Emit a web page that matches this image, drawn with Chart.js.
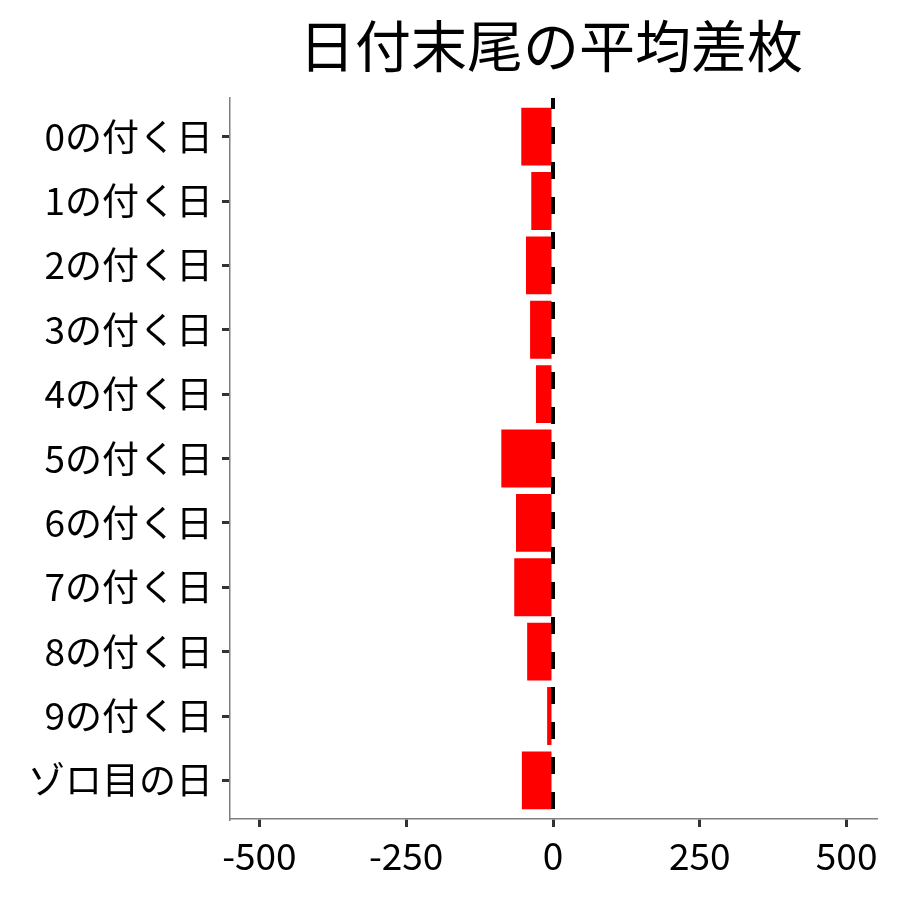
<!DOCTYPE html>
<html>
<head>
<meta charset="utf-8">
<script src="https://cdn.jsdelivr.net/npm/chart.js@4.4.1/dist/chart.umd.min.js"></script>
<style>
html,body{margin:0;padding:0;background:#fff;}
#wrap{width:900px;height:900px;}
</style>
</head>
<body>
<div id="wrap"><canvas id="c" width="900" height="900"></canvas></div>
<script>
const titleText = '日付末尾の平均差枚';
const categories = ['0の付く日','1の付く日','2の付く日','3の付く日','4の付く日','5の付く日','6の付く日','7の付く日','8の付く日','9の付く日','ゾロ目の日'];
const meanDiff = [-54, -37, -46, -39, -29, -88, -63, -66, -44, -10, -53];
const xTickValues = [-500, -250, 0, 250, 500];

const FONT = '"Noto Sans CJK JP", "Noto Sans", sans-serif';

const zeroLine = {
  id: 'zeroLine',
  afterDatasetsDraw(chart) {
    const {ctx, chartArea, scales} = chart;
    const x = scales.x.getPixelForValue(0);
    ctx.save();
    ctx.strokeStyle = '#000';
    ctx.lineWidth = 4;
    ctx.setLineDash([17, 18]);
    ctx.lineDashOffset = 6;
    ctx.beginPath();
    ctx.moveTo(x, chartArea.top);
    ctx.lineTo(x, chartArea.bottom);
    ctx.stroke();
    ctx.restore();
  }
};

const titlePlugin = {
  id: 'panelTitle',
  afterDraw(chart) {
    const {ctx, chartArea} = chart;
    ctx.save();
    ctx.fillStyle = '#000';
    ctx.font = '56px ' + FONT;
    ctx.textAlign = 'center';
    ctx.textBaseline = 'middle';
    ctx.fillText(titleText, (chartArea.left + chartArea.right) / 2 - 2, 46);
    ctx.restore();
  }
};

new Chart(document.getElementById('c'), {
  type: 'bar',
  data: {
    datasets: [{
      data: meanDiff.map((v, i) => ({x: v, y: i})),
      backgroundColor: '#FF0000',
      borderWidth: 0,
      categoryPercentage: 1,
      barPercentage: 0.9
    }]
  },
  options: {
    indexAxis: 'y',
    responsive: false,
    animation: false,
    devicePixelRatio: 1,
    layout: {padding: {top: 98, right: 24, left: 0, bottom: 0}},
    plugins: {legend: {display: false}, tooltip: {enabled: false}, title: {display: false}},
    scales: {
      x: {
        type: 'linear',
        min: -550,
        max: 550,
        offset: false,
        afterBuildTicks: s => { s.ticks = xTickValues.map(v => ({value: v})); },
        afterFit: s => { s.height = 81; },
        border: {display: true, color: '#7f7f7f', width: 1.5},
        grid: {offset: false, drawOnChartArea: false, drawTicks: true, tickLength: 8, tickColor: '#333333', tickWidth: 3, lineWidth: 3},
        ticks: {color: '#000', font: {family: FONT, size: 37}, padding: 7, maxRotation: 0, autoSkip: false,
          callback: v => String(v)}
      },
      y: {
        type: 'linear',
        reverse: true,
        offset: false,
        min: -0.6,
        max: categories.length - 1 + 0.6,
        afterBuildTicks: s => { s.ticks = categories.map((_, i) => ({value: i})); },
        afterFit: s => { s.width = 230; },
        border: {display: true, color: '#7f7f7f', width: 1.5},
        grid: {offset: false, drawOnChartArea: false, drawTicks: true, tickLength: 8, tickColor: '#333333', tickWidth: 3, lineWidth: 3},
        ticks: {color: '#000', font: {family: FONT, size: 37}, padding: 9, autoSkip: false,
          callback: v => categories[v] !== undefined ? categories[v] : ''}
      }
    }
  },
  plugins: [zeroLine, titlePlugin]
});
</script>
</body>
</html>
